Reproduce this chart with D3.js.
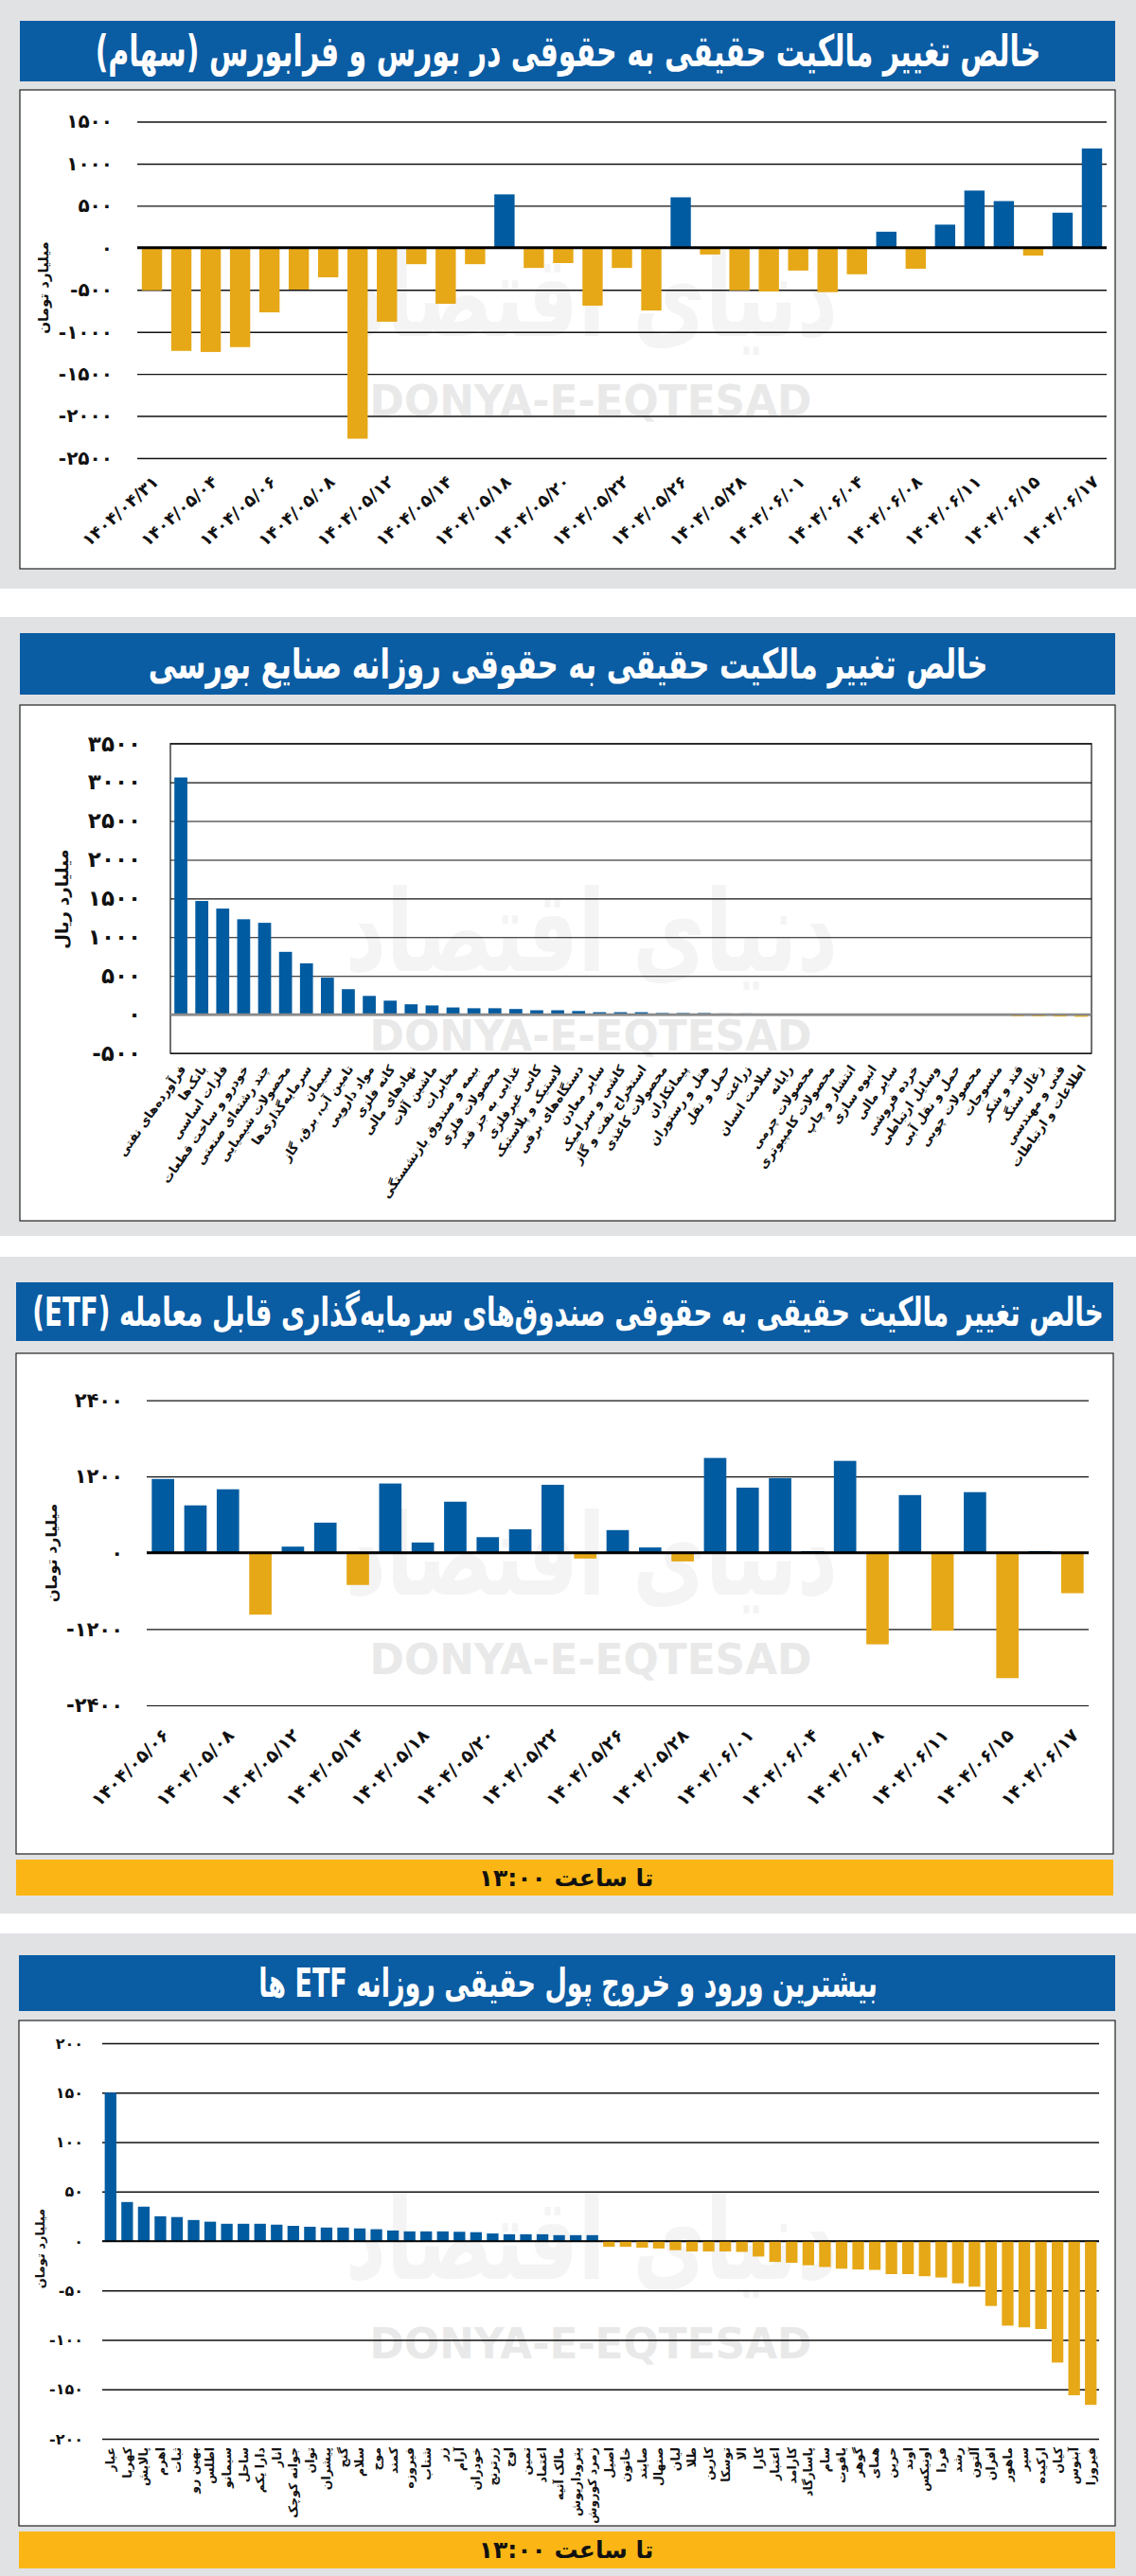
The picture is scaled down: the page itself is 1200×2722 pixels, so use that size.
<!DOCTYPE html>
<html><head><meta charset="utf-8">
<script src="https://cdn.jsdelivr.net/npm/d3@7"></script>
<style>body{margin:0;background:#fff}svg{display:block}text{font-family:"DejaVu Sans",sans-serif}</style>
</head><body>
<script>
// ---------- DATA ----------
const p1Dates = ["1404/04/31","1404/05/01","1404/05/04","1404/05/05","1404/05/06","1404/05/07","1404/05/08","1404/05/11","1404/05/12","1404/05/13","1404/05/14","1404/05/15","1404/05/18","1404/05/19","1404/05/20","1404/05/21","1404/05/22","1404/05/25","1404/05/26","1404/05/27","1404/05/28","1404/05/29","1404/06/01","1404/06/02","1404/06/04","1404/06/05","1404/06/08","1404/06/09","1404/06/11","1404/06/12","1404/06/15","1404/06/16","1404/06/17"];
const p1Values = [-506,-1226,-1239,-1181,-768,-497,-351,-2270,-879,-195,-666,-195,635,-240,-182,-688,-240,-746,600,-80,-506,-520,-271,-528,-315,191,-249,275,680,555,-93,417,1181];
const p1Ticks = [-2500,-2000,-1500,-1000,-500,0,500,1000,1500];

const p2Names = ["فرآورده‌های نفتی","بانک‌ها","فلزات اساسی","خودرو و ساخت قطعات","چند رشته‌ای صنعتی","محصولات شیمیایی","سرمایه‌گذاری‌ها","سیمان","تامین آب، برق، گاز","مواد دارویی","کانه فلزی","نهادهای مالی","ماشین آلات","مخابرات","بیمه و صندوق بازنشستگی","محصولات فلزی","غذایی به جز قند","کانی غیرفلزی","لاستیک و پلاستیک","دستگاه‌های برقی","سایر معادن","کاشی و سرامیک","استخراج نفت و گاز","محصولات کاغذی","پیمانکاران","هتل و رستوران","حمل و نقل","زراعت","سلامت انسان","رایانه","محصولات چرمی","محصولات کامپیوتری","انتشار و چاپ","انبوه سازی","سایر مالی","خرده فروشی","وسایل ارتباطی","حمل و نقل آبی","محصولات چوبی","منسوجات","قند و شکر","زغال سنگ","فنی و مهندسی","اطلاعات و ارتباطات"];
const p2Values = [3062,1467,1369,1231,1185,810,662,477,328,241,180,133,118,92,82,82,72,56,56,46,31,31,31,20,20,20,15,15,4,3,2,2,1,1,1,0,0,0,0,0,-20,-22,-25,-28];
const p2Ticks = [-500,0,500,1000,1500,2000,2500,3000,3500];

const p3Dates = ["1404/05/06","1404/05/07","1404/05/08","1404/05/11","1404/05/12","1404/05/13","1404/05/14","1404/05/15","1404/05/18","1404/05/19","1404/05/20","1404/05/21","1404/05/22","1404/05/25","1404/05/26","1404/05/27","1404/05/28","1404/05/29","1404/06/01","1404/06/02","1404/06/04","1404/06/05","1404/06/08","1404/06/09","1404/06/11","1404/06/12","1404/06/15","1404/06/16","1404/06/17"];
const p3Values = [1161,746,999,-973,97,474,-506,1090,162,804,246,370,1070,-91,357,84,-136,1492,1025,1174,26,1446,-1440,908,-1226,954,-1972,26,-636];
const p3Ticks = [-2400,-1200,0,1200,2400];

const p4Names = ["عیار","کهربا","پالایش","اهرم","ثبات","بهین رو","اطلس","سیمانو","ساحل","دارا یکم","انار","جوانه کوچک","توان","پیشران","گنج","سلام","موج","کمند","فیروزه","شتاب","زر","آرام","خودران","زرترنج","اوج","تمین","اعتماد","مالک آتیه","پتروداریوش","زمرد کوروش","اصیل","خاتون","صایند","صنهال","لیان","طلا","کارین","توسکا","الا","کارا","اعتبار","کارامد","پاسارگاد","سام","یاقوت","گوهر","همای","حرین","اوند","اونیکس","فردا","رشد","آلتون","افران","ماهور","سپر","ارکیده","کیان","آبنوس","فیروزا"];
const p4Values = [150,39.4,34.7,25,24.2,21.2,19.5,17.4,17.4,17.4,16.5,15.3,14.4,13.6,13.6,12.7,11.9,10.6,9.7,9.7,9.7,9.3,8.9,7.6,6.8,6.8,6.8,5.9,5.9,5.9,-5.9,-5.9,-6.8,-7.6,-9.3,-10.6,-10.6,-10.6,-11,-15.7,-21.2,-22,-24.6,-26.3,-28,-28.8,-29.2,-33.5,-33.5,-35.6,-36.9,-42.8,-46.2,-65.7,-85.6,-87.3,-89,-122.9,-156,-165.7];
const p4Ticks = [-200,-150,-100,-50,0,50,100,150,200];

const titles = ["خالص تغییر مالکیت حقیقی به حقوقی در بورس و فرابورس (سهام)",
  "خالص تغییر مالکیت حقیقی به حقوقی روزانه صنایع بورسی",
  "خالص تغییر مالکیت حقیقی به حقوقی صندوق‌های سرمایه‌گذاری قابل معامله (ETF)",
  "بیشترین ورود و خروج پول حقیقی روزانه ETF ها"];
const footerText = "تا ساعت ۱۳:۰۰";

// ---------- HELPERS ----------
const BLUE = "#0a5ca3", BAR_BLUE = "#005ba0", GOLD = "#e6a817", FOOT = "#fbb616", GRAY = "#e1e2e4";
const fa = s => String(s).replace(/[0-9]/g, d => "۰۱۲۳۴۵۶۷۸۹"[+d]);

const svg = d3.select("body").append("svg").attr("width",1200).attr("height",2722);
svg.append("rect").attr("width",1200).attr("height",2722).attr("fill","#fff");

function fitText(sel, cx, cy, target){
  const w = sel.node().getBBox().width;
  sel.attr("x",0).attr("y",0).attr("transform",`translate(${cx},${cy}) scale(${target/w},1)`);
}

function panelFrame(o){
  svg.append("rect").attr("x",0).attr("y",o.py0).attr("width",1200).attr("height",o.py1-o.py0).attr("fill",GRAY);
  svg.append("rect").attr("x",o.bx0).attr("y",o.ty0).attr("width",o.bx1-o.bx0).attr("height",o.ty1-o.ty0).attr("fill",BLUE);
  const t = svg.append("text").text(o.title).attr("fill","#fff").attr("font-weight","bold")
    .attr("font-size",o.tfs).attr("text-anchor","middle").attr("dominant-baseline","central").style("direction","rtl");
  fitText(t, 600, (o.ty0+o.ty1)/2, o.tw);
  svg.append("rect").attr("x",o.bx0).attr("y",o.cy0).attr("width",o.bx1-o.bx0).attr("height",o.cy1-o.cy0)
    .attr("fill","#fff").attr("stroke","#222").attr("stroke-width",1.2);
  if(o.fy0){
    svg.append("rect").attr("x",o.bx0).attr("y",o.fy0).attr("width",o.bx1-o.bx0).attr("height",o.fy1-o.fy0).attr("fill",FOOT);
    svg.append("text").text(footerText).attr("x",598).attr("y",(o.fy0+o.fy1)/2).attr("text-anchor","middle")
      .attr("dominant-baseline","central").attr("font-size",25).attr("font-weight","bold").attr("fill","#111").style("direction","rtl");
  }
  // watermark
  const lg = svg.append("text").text("دنیای اقتصاد").attr("fill","#f4f4f4").attr("font-size",120).attr("font-weight","bold")
    .attr("text-anchor","middle").attr("dominant-baseline","central");
  fitText(lg, 625, o.wmy-110, 520);
  const wm = svg.append("text").text("DONYA-E-EQTESAD").attr("fill","#e9e9e9").attr("font-size",44)
    .attr("font-family","Roboto").attr("font-weight","bold").attr("text-anchor","middle").attr("dominant-baseline","central");
  fitText(wm, 624, o.wmy, 467);
}

function yTitle(txt, x, y, fs){
  svg.append("text").text(txt).attr("transform",`translate(${x},${y}) rotate(-90)`).attr("text-anchor","middle")
    .attr("dominant-baseline","central").attr("font-size",fs).attr("fill","#111").attr("font-weight","bold");
}

function barChart(o){
  const x = d3.scaleBand().domain(o.cats).range([o.x0,o.x1]).paddingInner(o.pad).paddingOuter(o.pad/2);
  const y = d3.scaleLinear().domain(d3.extent(o.ticks)).range([o.yb,o.yt]);
  const gy = svg.append("g").attr("transform",`translate(${o.x0},0)`)
    .call(d3.axisLeft(y).tickValues(o.ticks).tickSize(-(o.x1-o.x0)).tickPadding(o.tpad).tickFormat(fa));
  gy.select(".domain").remove();
  gy.selectAll("line").attr("stroke","#111").attr("stroke-width",o.gw);
  gy.selectAll("text").attr("font-size",o.tfs).attr("font-weight","bold").attr("fill","#111").attr("font-family","DejaVu Sans");
  if(o.box){
    svg.append("rect").attr("x",o.x0).attr("y",o.yt).attr("width",o.x1-o.x0).attr("height",o.yb-o.yt)
      .attr("fill","none").attr("stroke","#111").attr("stroke-width",1.2);
  }
  svg.append("g").selectAll("rect").data(o.vals).join("rect")
    .attr("x",(d,i)=>x(o.cats[i])).attr("width",x.bandwidth())
    .attr("y",d=>y(Math.max(0,d))).attr("height",d=>Math.abs(y(d)-y(0)))
    .attr("fill",d=>d>=0?BAR_BLUE:GOLD);
  svg.append("line").attr("x1",o.x0).attr("x2",o.x1).attr("y1",y(0)).attr("y2",y(0))
    .attr("stroke",o.zc).attr("stroke-width",o.zw);
  const gx = svg.append("g").attr("transform",`translate(0,${o.yb})`)
    .call(d3.axisBottom(x).tickSize(0).tickFormat((d,i)=> (i % o.every===0) ? o.fmt(d) : ""));
  gx.select(".domain").remove();
  gx.selectAll("text").attr("x",0).attr("y",0).attr("dy","0.35em").attr("text-anchor","end")
    .attr("transform",`translate(${o.lx},${o.ly}) rotate(${o.rot})`)
    .attr("font-size",o.lfs).attr("font-weight","bold").attr("fill","#111").attr("font-family","DejaVu Sans");
}

// ---------- PANEL 1 ----------
panelFrame({py0:0,py1:622,bx0:21,bx1:1178,ty0:22,ty1:86,title:titles[0],tfs:46,tw:999,cy0:95,cy1:601,wmy:423});
yTitle("میلیارد تومان",46,304,15);
barChart({cats:p1Dates,vals:p1Values,ticks:p1Ticks,x0:145,x1:1169,yb:484,yt:128.5,pad:0.31,tpad:26,tfs:20,gw:1.4,
  zc:"#000",zw:3,every:2,fmt:fa,lx:4,ly:22,rot:-42,lfs:18});

// ---------- PANEL 2 ----------
panelFrame({py0:652,py1:1306,bx0:21,bx1:1178,ty0:669,ty1:734,title:titles[1],tfs:44,tw:887,cy0:745,cy1:1290,wmy:1094});
yTitle("میلیارد ریال",65,950,18);
barChart({cats:p2Names,vals:p2Values,ticks:p2Ticks,x0:180,x1:1153,yb:1113,yt:785.7,pad:0.38,tpad:31,tfs:23,gw:1.1,box:true,
  zc:"#8a8a8a",zw:2.5,every:1,fmt:d=>d,lx:2,ly:14,rot:-55,lfs:13});

// ---------- PANEL 3 ----------
panelFrame({py0:1328,py1:2022,bx0:17,bx1:1176,ty0:1355,ty1:1417,title:titles[2],tfs:42,tw:1132,cy0:1430,cy1:1959,fy0:1965,fy1:2003,wmy:1753});
yTitle("میلیارد تومان",54,1641,16);
barChart({cats:p3Dates,vals:p3Values,ticks:p3Ticks,x0:155,x1:1150,yb:1802,yt:1479.6,pad:0.31,tpad:25,tfs:21,gw:1.2,
  zc:"#000",zw:3,every:2,fmt:fa,lx:3,ly:28,rot:-45,lfs:19});

// ---------- PANEL 4 ----------
panelFrame({py0:2043,py1:2722,bx0:20,bx1:1178,ty0:2066,ty1:2125,title:titles[3],tfs:42,tw:654,cy0:2135,cy1:2669,fy0:2675,fy1:2714,wmy:2476});
yTitle("میلیارد تومان",42,2376,13);
barChart({cats:p4Names,vals:p4Values,ticks:p4Ticks,x0:108,x1:1161,yb:2577,yt:2159,pad:0.3,tpad:20,tfs:16,gw:1.4,
  zc:"#000",zw:1.6,every:1,fmt:d=>d,lx:0,ly:9,rot:-90,lfs:12.5});
</script>
</body></html>
